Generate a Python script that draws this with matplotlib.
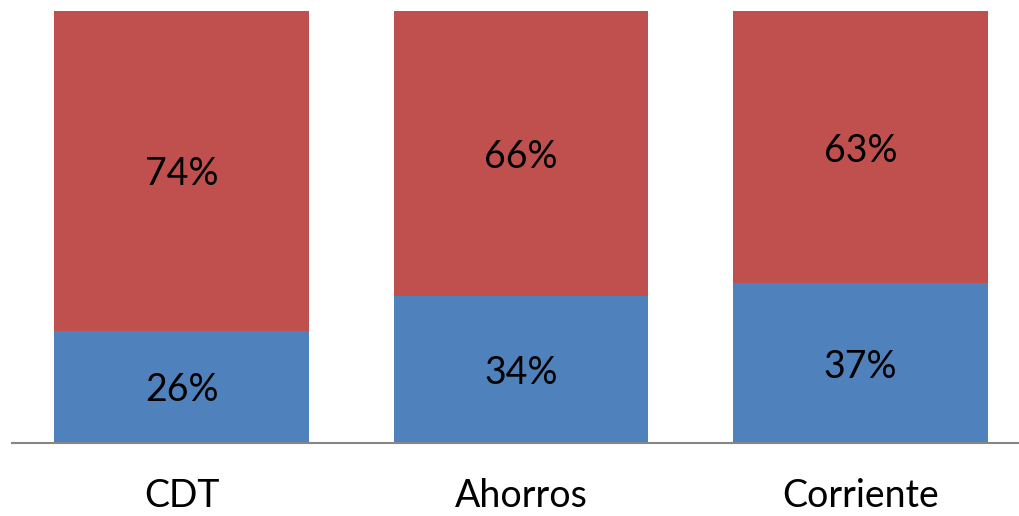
import matplotlib
matplotlib.use("Agg")
import matplotlib.pyplot as plt

categories = ["CDT", "Ahorros", "Corriente"]
blue_vals = [26, 34, 37]
red_vals = [74, 66, 63]

blue = "#4F81BD"
red = "#C0504D"

fig = plt.figure(figsize=(10.19, 5.16), dpi=100)
W, H = 1019, 516
ax = fig.add_axes([12 / W, (H - 443) / H, (1030 - 12) / W, (443 - 11) / H])

x = list(range(len(categories)))
ax.bar(x, blue_vals, width=0.75, color=blue)
ax.bar(x, red_vals, width=0.75, bottom=blue_vals, color=red)

font = "Lato"
for i in x:
    ax.text(i, blue_vals[i] / 2, f"{blue_vals[i]}%", ha="center", va="center_baseline",
            fontsize=27, family=font, color="black")
    ax.text(i, blue_vals[i] + red_vals[i] / 2, f"{red_vals[i]}%", ha="center", va="center_baseline",
            fontsize=27, family=font, color="black")

ax.set_xlim(-0.5, 2.5)
ax.set_ylim(0, 100)
for s in ["top", "right", "left"]:
    ax.spines[s].set_visible(False)
ax.spines["bottom"].set_color("#868686")
ax.spines["bottom"].set_linewidth(1.5)
ax.set_yticks([])
ax.set_xticks(x)
ax.set_xticklabels(categories, fontsize=27, family=font)
ax.tick_params(axis="x", length=0, pad=25)

fig.savefig("out.png", dpi=100)
